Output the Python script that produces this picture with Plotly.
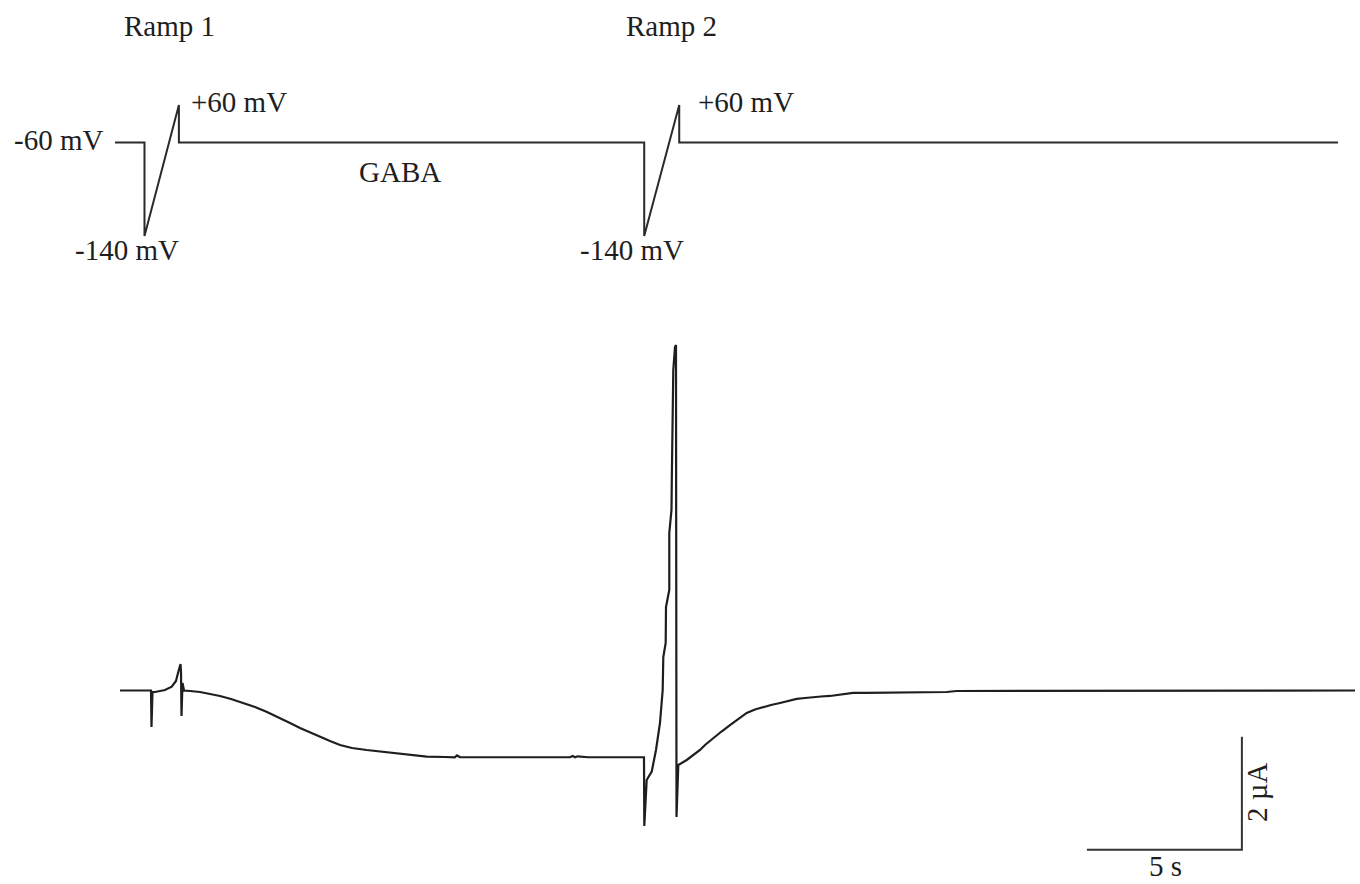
import plotly.graph_objects as go

# Two-electrode voltage clamp: ramp protocol (top) and membrane current (bottom)

# --- Voltage protocol (s, mV) ---
protocol_t = [-0.16, 0.79, 0.79, 1.90, 1.90, 16.91, 16.91, 18.04, 18.04, 39.29]
protocol_mv = [-60, -60, -140, 60, -60, -60, -140, 60, -60, -60]

# --- Membrane current (s, µA) ---
current_t = [
    0.000, 1.000, 1.016, 1.048, 1.129, 1.452, 1.668, 1.806, 1.871, 1.952,
    1.968, 1.984, 2.016, 2.065, 2.258, 2.581, 2.903, 3.226, 3.581, 3.968,
    4.355, 4.742, 5.129, 5.484, 5.806, 6.129, 6.452, 6.774, 7.097, 7.484,
    7.958, 8.484, 9.032, 9.452, 9.894, 10.484, 10.80, 10.87, 10.97, 11.06,
    14.52, 14.60, 14.68, 14.76, 15.00, 15.10, 16.871,
    16.903, 16.913, 16.990, 17.152, 17.290, 17.419, 17.474, 17.506, 17.526, 17.603,
    17.613, 17.719, 17.719, 17.790, 17.800, 17.829, 17.848, 17.903, 17.935, 17.952,
    18.010, 18.281, 18.710, 18.871, 19.129, 19.403, 19.677, 19.935, 20.216, 20.484,
    20.742, 21.000, 21.290, 21.548, 21.829, 22.097, 22.355, 22.613, 22.903, 23.290,
    23.645, 24.065, 24.516, 25.484, 26.668, 26.990, 39.839,
]
current_ua = [
    0.000, 0.000, -0.646, -0.027, -0.027, 0.009, 0.067, 0.168, 0.310, 0.469,
    0.327, -0.451, 0.133, 0.000, -0.009, -0.027, -0.062, -0.097, -0.150, -0.221,
    -0.292, -0.381, -0.478, -0.575, -0.664, -0.743, -0.818, -0.894, -0.965, -1.018,
    -1.053, -1.088, -1.124, -1.150, -1.172, -1.177, -1.182, -1.150, -1.182, -1.182,
    -1.182, -1.160, -1.182, -1.165, -1.182, -1.182, -1.182,
    -1.182, -2.398, -1.584, -1.437, -1.053, -0.575, -0.168, 0.009, 0.593, 0.841,
    1.478, 1.779, 2.788, 3.195, 3.726, 4.664, 5.673, 6.080, 6.115, -2.239,
    -1.319, -1.230, -1.053, -0.965, -0.841, -0.726, -0.611, -0.504, -0.398, -0.336,
    -0.292, -0.257, -0.221, -0.186, -0.150, -0.133, -0.115, -0.106, -0.097, -0.071,
    -0.044, -0.044, -0.039, -0.035, -0.027, -0.009, 0.000,
]

# --- Scale bars ---
scalebar_corner = (36.19, -2.82)   # (s, µA)
scalebar_time = 5                   # s
scalebar_current = 2                # µA

# Text labels (label, x px, y px)
labels = [
    ("Ramp 1", 169, 26),
    ("Ramp 2", 671, 26),
    ("-60 mV", 58, 140),
    ("-140 mV", 127, 250),
    ("+60 mV", 239, 102),
    ("GABA", 400, 172),
    ("-140 mV", 632, 250),
    ("+60 mV", 746, 102),
    ("5 s", 1165, 866),
]

W, H = 1360, 884
FONT = "Liberation Serif"
INK = "#1e1e1e"
FS = 29


def protocol_display(v):
    """Schematic protocol: depolarizing excursions drawn compressed."""
    return v if v <= -60 else -60 + (v + 60) * 0.2674


fig = go.Figure()

fig.add_trace(go.Scatter(
    x=protocol_t, y=[protocol_display(v) for v in protocol_mv],
    mode="lines", line=dict(color="#2a2a2a", width=2), yaxis="y2",
    hoverinfo="skip",
))

fig.add_trace(go.Scatter(
    x=current_t, y=current_ua, mode="lines",
    line=dict(color=INK, width=2.2), hoverinfo="skip",
))

cx, cy = scalebar_corner
fig.add_trace(go.Scatter(
    x=[cx - scalebar_time, cx, cx],
    y=[cy, cy, cy + scalebar_current],
    mode="lines", line=dict(color="#333333", width=2), hoverinfo="skip",
))

for text, px, py in labels:
    fig.add_annotation(
        text=text, x=px / W, y=1 - py / H, xref="paper", yref="paper",
        showarrow=False, xanchor="center", yanchor="middle",
        font=dict(family=FONT, size=FS, color=INK),
    )

fig.add_annotation(
    text="2 µA", x=1257 / W, y=1 - 793 / H, xref="paper", yref="paper",
    showarrow=False, xanchor="center", yanchor="middle", textangle=-90,
    font=dict(family=FONT, size=FS, color=INK),
)

fig.update_layout(
    width=W, height=H,
    margin=dict(l=0, r=0, t=0, b=0),
    paper_bgcolor="white", plot_bgcolor="white",
    showlegend=False,
    xaxis=dict(range=[-3.871, 40.0], visible=False, fixedrange=True),
    yaxis=dict(range=[-3.425, 12.221], visible=False, fixedrange=True),
    yaxis2=dict(range=[-694.3, 61.9], visible=False, overlaying="y",
                fixedrange=True),
)

fig.write_html("out.html")
